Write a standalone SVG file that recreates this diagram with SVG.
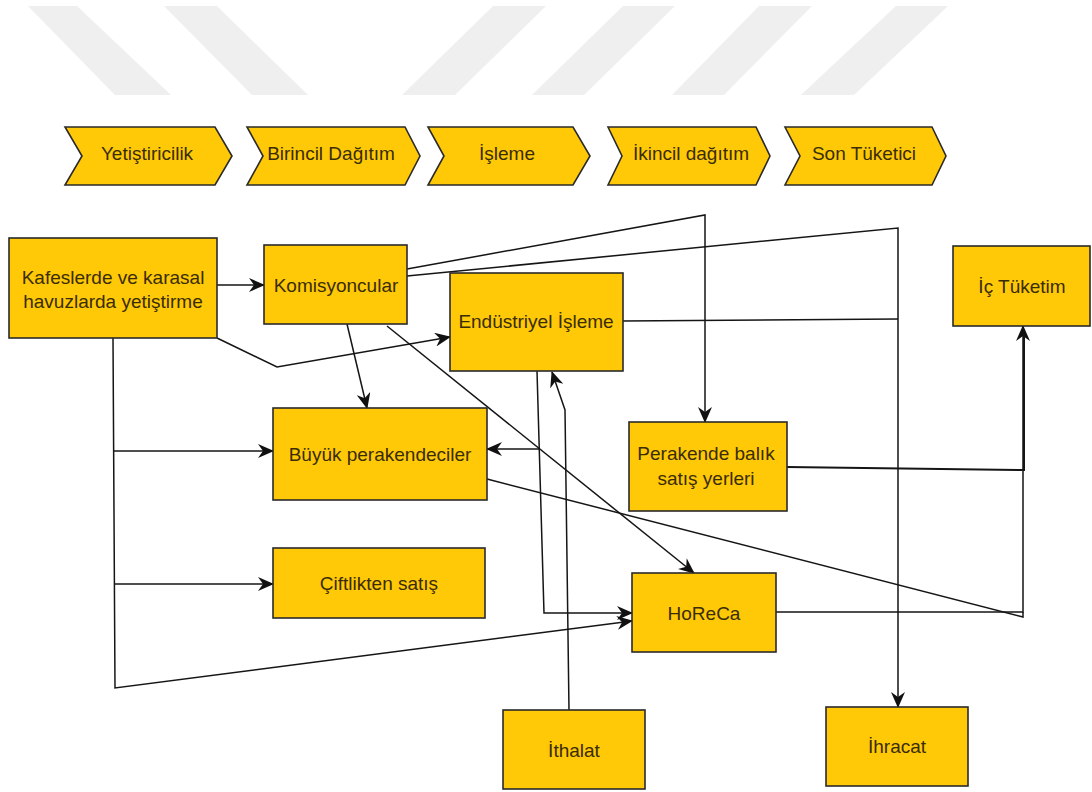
<svg xmlns="http://www.w3.org/2000/svg" width="1092" height="792" viewBox="0 0 1092 792">
<defs>
<marker id="arr" viewBox="0 0 16 14" refX="15" refY="7" markerWidth="16" markerHeight="14" markerUnits="userSpaceOnUse" orient="auto">
<path d="M0,0 L16,7 L0,14 L5,7 z" fill="#111"/>
</marker>
<style>
.wm{fill:#efefef}
.box{fill:#FFC907;stroke:#2a2a2a;stroke-width:1.6}
.t{font-family:"Liberation Sans",Arial,sans-serif;font-size:19px;fill:#3a2c05;text-anchor:middle}
.c{fill:none;stroke:#151515;stroke-width:1.5}
.a{marker-end:url(#arr)}
</style>
</defs>
<rect width="1092" height="792" fill="#fff"/>
<g id="watermark">
<polygon class="wm" points="28,6 77,6 171,95 115,95"/>
<polygon class="wm" points="164,6 217,6 308,95 252,95"/>
<polygon class="wm" points="493,6 546,6 455,95 402,95"/>
<polygon class="wm" points="623,6 675,6 584,95 532,95"/>
<polygon class="wm" points="759,6 812,6 724,95 672,95"/>
<polygon class="wm" points="896,6 948,6 854,95 801,95"/>
</g>
<g id="stages">
<g id="s1"><polygon class="box" points="65,127 215,127 232,156 215,185 65,185 82,156"/><text class="t" x="147" y="160">Yetiştiricilik</text></g>
<g id="s2"><polygon class="box" points="247,127 405,127 420,156 405,185 247,185 263,156"/><text class="t" x="331" y="160">Birincil Dağıtım</text></g>
<g id="s3"><polygon class="box" points="428,127 573,127 590,156 573,185 428,185 444,156"/><text class="t" x="507" y="160">İşleme</text></g>
<g id="s4"><polygon class="box" points="608,127 756,127 770,156 756,185 608,185 622,156"/><text class="t" x="691" y="160">İkincil dağıtım</text></g>
<g id="s5"><polygon class="box" points="785,127 932,127 946,156 932,185 785,185 800,156"/><text class="t" x="864" y="160">Son Tüketici</text></g>
</g>
<g id="connectors">
<path class="c a" d="M217,285 L264,285"/>
<path class="c a" d="M217,338 L277,367 L450,337"/>
<path class="c a" d="M347,324 L367,408"/>
<path class="c a" d="M387,326 L694,573"/>
<path class="c a" d="M407,269 L705,215 L705,422"/>
<path class="c a" d="M407,276 L898,228 L898,707"/>
<path class="c" d="M623,321 L898,319"/>
<path class="c a" d="M537,371 L544,613 L632,613"/>
<path class="c a" d="M539,449 L487,449"/>
<path class="c a" d="M569,710 L565,410 L552,372"/>
<path class="c a" d="M113,338 L115,688 L632,621"/>
<path class="c a" d="M113,451 L273,451"/>
<path class="c a" d="M114,584 L273,584"/>
<path class="c" d="M487,479 L1023,617 L1023,612"/>
<path class="c a" d="M776,612 L1023,612 L1023,326"/>
<path class="c" d="M787,467 L1024,470 L1024,334" style="stroke-width:2"/>
</g>
<g id="n1"><rect class="box" x="9" y="238" width="208" height="100"/><text class="t" x="113" y="284">Kafeslerde ve karasal</text><text class="t" x="113" y="308">havuzlarda yetiştirme</text></g>
<g id="n2"><rect class="box" x="264" y="245" width="143" height="79"/><text class="t" x="336" y="292">Komisyoncular</text></g>
<g id="n3"><rect class="box" x="450" y="273" width="173" height="98"/><text class="t" x="536" y="328">Endüstriyel İşleme</text></g>
<g id="n4"><rect class="box" x="953" y="246" width="137" height="80"/><text class="t" x="1022" y="293">İç Tüketim</text></g>
<g id="n5"><rect class="box" x="273" y="408" width="214" height="92"/><text class="t" x="380" y="461">Büyük perakendeciler</text></g>
<g id="n6"><rect class="box" x="273" y="548" width="212" height="70"/><text class="t" x="379" y="590">Çiftlikten satış</text></g>
<g id="n7"><rect class="box" x="629" y="422" width="158" height="89"/><text class="t" x="706" y="460">Perakende balık</text><text class="t" x="706" y="485"> satış yerleri</text></g>
<g id="n8"><rect class="box" x="632" y="573" width="144" height="79"/><text class="t" x="704" y="620">HoReCa</text></g>
<g id="n9"><rect class="box" x="503" y="710" width="142" height="79"/><text class="t" x="574" y="757">İthalat</text></g>
<g id="n10"><rect class="box" x="826" y="707" width="142" height="79"/><text class="t" x="897" y="753">İhracat</text></g>
</svg>
